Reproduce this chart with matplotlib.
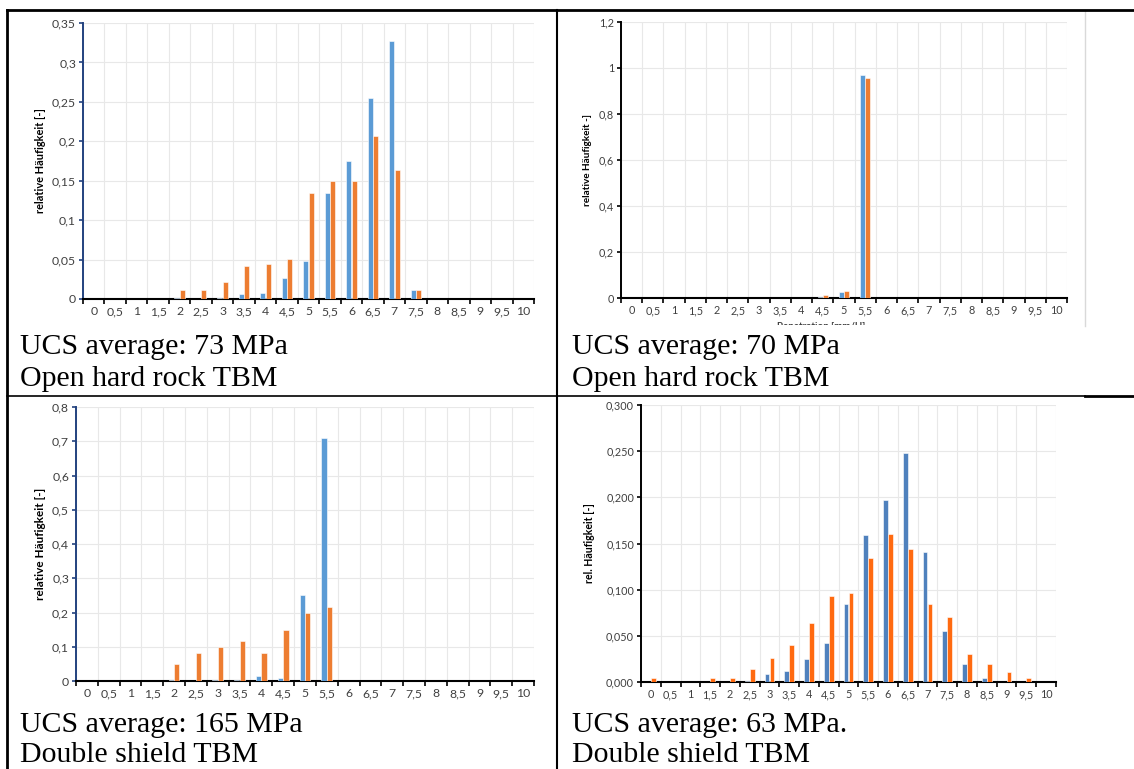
import matplotlib
matplotlib.use('Agg')
import matplotlib.pyplot as plt
import numpy as np
from matplotlib.lines import Line2D

W, H = 1134, 769

# x categories (0 .. 10 step 0,5)
cats = ['0', '0,5', '1', '1,5', '2', '2,5', '3', '3,5', '4', '4,5', '5',
        '5,5', '6', '6,5', '7', '7,5', '8', '8,5', '9', '9,5', '10']

# top left: UCS 73 MPa, open hard rock TBM
tl_blue = [0, 0, 0, 0, 0.001, 0, 0.001, 0.006, 0.007, 0.026, 0.048,
           0.135, 0.175, 0.255, 0.327, 0.012, 0, 0, 0, 0, 0]
tl_orange = [0, 0, 0, 0, 0.011, 0.011, 0.021, 0.042, 0.044, 0.051, 0.134,
             0.150, 0.150, 0.207, 0.164, 0.011, 0, 0, 0, 0, 0]
tl_yticks = [0, 0.05, 0.1, 0.15, 0.2, 0.25, 0.3, 0.35]
tl_ylabels = ['0', '0,05', '0,1', '0,15', '0,2', '0,25', '0,3', '0,35']

# top right: UCS 70 MPa, open hard rock TBM
tr_blue = [0, 0, 0, 0, 0, 0, 0, 0, 0, 0.003, 0.024,
           0.970, 0, 0, 0, 0, 0, 0, 0, 0, 0]
tr_orange = [0, 0, 0, 0, 0, 0, 0, 0, 0, 0.011, 0.032,
             0.957, 0, 0, 0, 0, 0, 0, 0, 0, 0]
tr_yticks = [0, 0.2, 0.4, 0.6, 0.8, 1.0, 1.2]
tr_ylabels = ['0', '0,2', '0,4', '0,6', '0,8', '1', '1,2']

# bottom left: UCS 165 MPa, double shield TBM
bl_blue = [0, 0, 0, 0, 0.004, 0, 0.004, 0.004, 0.015, 0.009, 0.250,
           0.709, 0, 0, 0, 0, 0, 0, 0, 0, 0]
bl_orange = [0, 0, 0, 0, 0.050, 0.083, 0.099, 0.116, 0.083, 0.149, 0.199,
             0.216, 0, 0, 0, 0, 0, 0, 0, 0, 0]
bl_yticks = [0, 0.1, 0.2, 0.3, 0.4, 0.5, 0.6, 0.7, 0.8]
bl_ylabels = ['0', '0,1', '0,2', '0,3', '0,4', '0,5', '0,6', '0,7', '0,8']

# bottom right: UCS 63 MPa, double shield TBM
br_blue = [0, 0, 0, 0, 0, 0.0015, 0.0087, 0.012, 0.025, 0.042, 0.085,
           0.159, 0.197, 0.248, 0.141, 0.055, 0.020, 0.004, 0, 0, 0]
br_orange = [0.004, 0, 0, 0.004, 0.004, 0.014, 0.026, 0.040, 0.064, 0.093, 0.096,
             0.134, 0.160, 0.144, 0.085, 0.070, 0.030, 0.020, 0.011, 0.004, 0]
br_yticks = [0, 0.05, 0.1, 0.15, 0.2, 0.25, 0.3]
br_ylabels = ['0,000', '0,050', '0,100', '0,150', '0,200', '0,250', '0,300']

captions = [('UCS average: 73 MPa', 'Open hard rock TBM'),
            ('UCS average: 70 MPa', 'Open hard rock TBM'),
            ('UCS average: 165 MPa', 'Double shield TBM'),
            ('UCS average: 63 MPa.', 'Double shield TBM')]

plt.rcParams['font.family'] = ['Lato', 'DejaVu Sans']

fig = plt.figure(figsize=(W / 100, H / 100), dpi=100)
fig.patch.set_facecolor('white')


def px_axes(l, t, r, b):
    return fig.add_axes([l / W, 1 - b / H, (r - l) / W, (b - t) / H])


def fig_line(x0, y0, x1, y1, color='black', lw=1.5):
    fig.add_artist(Line2D([x0 / W, x1 / W], [1 - y0 / H, 1 - y1 / H],
                          transform=fig.transFigure, color=color, lw=lw))


def draw_chart(box, blue, orange, yticks, ylabels, ylabel, ylab_x, c_blue, c_orange,
               ycol, fs, lfs):
    ax = px_axes(*box)
    x = np.arange(len(cats))
    w = 0.24
    ax.bar(x - w / 2 - 0.005, blue, width=w, color=c_blue, edgecolor='white', lw=0.4, zorder=3)
    ax.bar(x + w / 2 + 0.005, orange, width=w, color=c_orange, edgecolor='white', lw=0.4, zorder=3)
    ax.set_xlim(-0.5, len(cats) - 0.5)
    ax.set_ylim(yticks[0], yticks[-1])
    bounds = np.arange(-0.5, len(cats), 1.0)
    ax.set_xticks(bounds)
    ax.set_xticklabels([])
    ax.set_xticks(x, minor=True)
    ax.set_xticklabels(cats, minor=True, fontsize=fs, color='#404040')
    ax.tick_params(axis='x', which='major', length=3.5, width=1.2, color='black', direction='out')
    ax.tick_params(axis='x', which='minor', length=0, pad=5)
    ax.set_yticks(yticks)
    ax.set_yticklabels(ylabels, fontsize=fs, color='#404040')
    ax.tick_params(axis='y', length=3, width=1.2, color=ycol, pad=2)
    ax.grid(True, which='major', color='#E8E8E8', lw=0.8, zorder=0)
    for s in ['top', 'right']:
        ax.spines[s].set_visible(False)
    ax.spines['bottom'].set_color('black')
    ax.spines['bottom'].set_linewidth(1.5)
    ax.spines['left'].set_color(ycol)
    ax.spines['left'].set_linewidth(1.4)
    cy = (box[1] + box[3]) / 2
    fig.text(ylab_x / W, 1 - cy / H, ylabel, rotation=90, ha='center', va='center',
             fontsize=lfs, fontweight='bold', color='black')
    return ax


navy = '#22427F'
draw_chart((83, 23, 534, 299), tl_blue, tl_orange, tl_yticks, tl_ylabels,
           'relative Häufigkeit [-]', 40, '#5B9BD5', '#ED7D31', navy, 8.8, 7.9)
draw_chart((621, 22, 1067, 298), tr_blue, tr_orange, tr_yticks, tr_ylabels,
           'relative Häufigkeit -]', 588, '#5B9BD5', '#ED7D31', 'black', 7.8, 7.2)
draw_chart((76, 407, 534, 681), bl_blue, bl_orange, bl_yticks, bl_ylabels,
           'relative Häufigkeit [-]', 40, '#5B9BD5', '#ED7D31', navy, 8.8, 8.5)
draw_chart((641, 405, 1056, 682), br_blue, br_orange, br_yticks, br_ylabels,
           'rel. Häufigkeit [-]', 589, '#4F81BD', '#FF6A10', 'black', 7.8, 7.6)

# cut-off x axis title of the top right screenshot
bg = px_axes(558, 12, 1085, 325)
bg.axis('off')
bg.set_zorder(-1)
bg.text(0.5, 1 - 310 / 313, 'Penetration [mm/U]', transform=bg.transAxes, ha='center', va='top',
        fontsize=7, fontweight='bold', color='#404040', clip_on=True)
fig_line(1085, 10, 1085, 326, color='#D9D9D9', lw=1.0)

# table borders
fig_line(7, 10, 1134, 10, lw=2)
fig_line(7, 10, 7, 769, lw=2)
fig_line(557, 10, 557, 769, lw=1.5)
fig_line(7, 396, 1085, 396, lw=1.2)
fig_line(1085, 396, 1134, 396, lw=2)

# captions (baselines in pixels)
cap_pos = [(20, 354, 386), (572, 354, 386), (20, 732, 762), (572, 732, 762)]
for (cx, y1, y2), (l1, l2) in zip(cap_pos, captions):
    fig.text(cx / W, 1 - y1 / H, l1, ha='left', va='baseline', fontsize=21.5,
             family='Liberation Serif', color='black')
    fig.text(cx / W, 1 - y2 / H, l2, ha='left', va='baseline', fontsize=21.5,
             family='Liberation Serif', color='black')

fig.savefig('out.png', dpi=100, facecolor='white')
